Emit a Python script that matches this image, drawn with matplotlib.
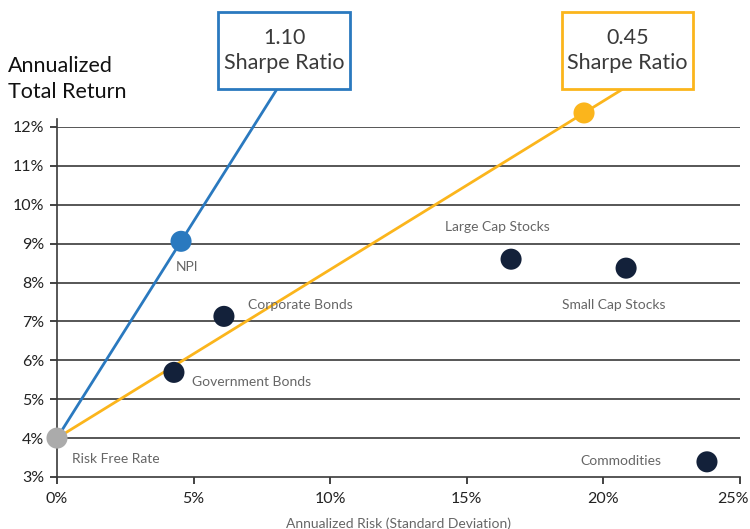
import matplotlib
matplotlib.use("Agg")
import matplotlib.pyplot as plt
from matplotlib.patches import Rectangle
from matplotlib.transforms import ScaledTranslation

plt.rcParams['font.family'] = ['Lato', 'DejaVu Sans']

# risk / return of each asset class (%)
names = ["NPI", "Listed REITs", "Large Cap Stocks", "Small Cap Stocks",
         "Corporate Bonds", "Government Bonds", "Commodities", "Risk Free Rate"]
risk = [4.54, 19.29, 16.62, 20.83, 6.11, 4.28, 23.79, 0.0]
ret = [9.06, 12.36, 8.60, 8.37, 7.13, 5.69, 3.39, 4.0]
colors = ["#2a79bf", "#fbb51c", "#13213a", "#13213a",
          "#13213a", "#13213a", "#13213a", "#ababab"]
# label offsets in pixels from each dot
offsets = [(-5, -26), (-16, -30), (-66, 32), (-64, -37),
           (24, 11), (18, -10), (-127, 1), (15, -21)]

sharpe = ["1.10", "0.45"]
line_colors = ["#2a79bf", "#fbb51c"]
line_through = [0, 1]     # index of the asset each Sharpe line passes
line_top = 12.95          # where the lines meet the boxes

rf = ret[names.index("Risk Free Rate")]

W, H = 750, 529
fig = plt.figure(figsize=(7.5, 5.29), dpi=100)
ax = fig.add_axes([0.076, 0.0983, 0.9107, 0.6617])
ax.set_xlim(0, 25)
ax.set_ylim(3, 12)

for y in range(4, 13):
    ax.axhline(y, color="#3a3a3a", lw=1.2, zorder=1)

# Sharpe ratio lines from the risk free rate through the asset
for i, c in zip(line_through, line_colors):
    slope = (ret[i] - rf) / risk[i]
    x_end = (line_top - rf) / slope
    ax.plot([0, x_end], [rf, line_top], color=c, lw=2, clip_on=False, zorder=2)

ax.scatter(risk, ret, s=230, c=colors, zorder=3, clip_on=False, linewidths=0)

for n, x, y, off in zip(names, risk, ret, offsets):
    ax.annotate(n, (x, y), xytext=off, textcoords="offset pixels",
                ha="left", va="center", fontsize=10, color="#666666")

# boxes with the ratio values (pixel left, right)
boxes = [(218, 350), (562, 693)]
for s, c, (x0, x1) in zip(sharpe, line_colors, boxes):
    fig.patches.append(Rectangle((x0 / W, 1 - 89 / H), (x1 - x0) / W, 77 / H,
                                 transform=fig.transFigure, fc="white", ec=c, lw=2))
    xc = (x0 + x1) / 2 / W
    fig.text(xc, 1 - 38 / H, s, ha="center", va="center", fontsize=15.5, color="#3a3a3a")
    fig.text(xc, 1 - 63 / H, "Sharpe Ratio", ha="center", va="center",
             fontsize=15.5, color="#3a3a3a")

fig.text(8 / W, 1 - 79 / H, "Annualized\nTotal Return", ha="left", va="center",
         fontsize=15.5, color="#111111", linespacing=1.4)

ax.set_xticks([0, 5, 10, 15, 20, 25])
ax.set_xticklabels(["0%", "5%", "10%", "15%", "20%", "25%"])
ax.set_yticks(range(3, 13))
ax.set_yticklabels([f"{v}%" for v in range(3, 13)])
ax.tick_params(axis="both", labelsize=11.5, colors="#222222", length=5, width=1.2)
ax.tick_params(axis="x", pad=6)
ax.tick_params(axis="y", pad=4)
ax.set_xlabel("Annualized Risk (Standard Deviation)", fontsize=10, color="#666666",
              labelpad=8)

# keep the last x label inside the figure
last = ax.get_xticklabels()[-1]
last.set_transform(last.get_transform() + ScaledTranslation(-7 / 100, 0, fig.dpi_scale_trans))

for side in ["top", "right"]:
    ax.spines[side].set_visible(False)
ax.spines["left"].set_color("#3a3a3a")
ax.spines["bottom"].set_color("#3a3a3a")
ax.spines["left"].set_linewidth(1.2)
ax.spines["bottom"].set_linewidth(1.2)
ax.spines["left"].set_bounds(3, 12.2)

fig.savefig("out.png", dpi=100)
